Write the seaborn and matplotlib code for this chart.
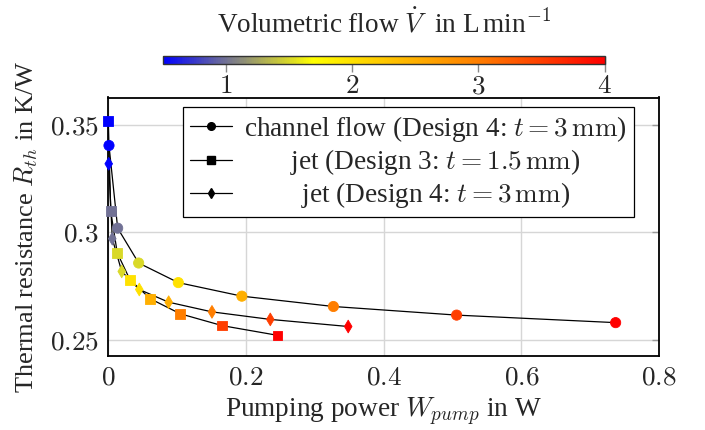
import numpy as np
import pandas as pd
import seaborn as sns
import matplotlib
matplotlib.use("Agg")
import matplotlib.pyplot as plt
from matplotlib.colors import LinearSegmentedColormap, Normalize
from matplotlib.cm import ScalarMappable
from matplotlib.lines import Line2D

# ---------------- data ----------------
flow = [0.5, 1.0, 1.5, 2.0, 2.5, 3.0, 3.5, 4.0]  # L/min

channel_power = [0.001, 0.0136, 0.0441, 0.1017, 0.194, 0.327, 0.506, 0.737]
channel_rth = [0.3404, 0.3020, 0.2858, 0.2767, 0.2704, 0.2656, 0.2616, 0.2581]

jet3_power = [0.0, 0.0035, 0.013, 0.0315, 0.061, 0.1046, 0.1656, 0.246]
jet3_rth = [0.3517, 0.3100, 0.2905, 0.2780, 0.2692, 0.2622, 0.2567, 0.2522]

jet4_power = [0.0006, 0.0058, 0.0195, 0.045, 0.0877, 0.1506, 0.2353, 0.3485]
jet4_rth = [0.3319, 0.2971, 0.2819, 0.2735, 0.2676, 0.2631, 0.2596, 0.2563]

series_labels = [
    r"channel flow (Design 4: $t=3\,\mathrm{mm}$)",
    r"jet (Design 3: $t=1.5\,\mathrm{mm}$)",
    r"jet (Design 4: $t=3\,\mathrm{mm}$)",
]
series_markers = ["o", "s", "d"]

xticks = [0, 0.2, 0.4, 0.6, 0.8]
xtick_labels = ["0", "0.2", "0.4", "0.6", "0.8"]
yticks = [0.25, 0.3, 0.35]
ytick_labels = ["0.25", "0.3", "0.35"]
cticks = [1, 2, 3, 4]
ctick_labels = ["1", "2", "3", "4"]
flow_range = (0.5, 4.0)

# ---------------- style ----------------
sns.set_theme(style="white")
plt.rcParams["font.family"] = ["Liberation Serif", "DejaVu Serif"]
plt.rcParams["mathtext.fontset"] = "cm"
plt.rcParams["axes.unicode_minus"] = False
FS = 19.6

cmap = LinearSegmentedColormap.from_list(
    "flowmap",
    [(0.0, (0.0, 0.0, 1.0)),
     (0.143, (0.45, 0.45, 0.58)),
     (0.34, (1.0, 1.0, 0.0)),
     (0.71, (1.0, 0.5, 0.0)),
     (1.0, (1.0, 0.0, 0.0))],
)
norm = Normalize(*flow_range)

frames = []
for lab, m, xs, ys in zip(series_labels, series_markers,
                          [channel_power, jet3_power, jet4_power],
                          [channel_rth, jet3_rth, jet4_rth]):
    frames.append(pd.DataFrame({"power": xs, "rth": ys, "flow": flow,
                                "series": lab, "marker": m}))
df = pd.concat(frames, ignore_index=True)

fig = plt.figure(figsize=(7.05, 4.30), dpi=100)
ax = fig.add_axes([108.3 / 705, 1 - 356 / 430, 550.7 / 705, 258.5 / 430])
cax = fig.add_axes([162.7 / 705, 1 - 64 / 430, 442 / 705, 8.3 / 430])

sizes = {"o": 54, "s": 48, "d": 42}
for lab, m in zip(series_labels, series_markers):
    sub = df[df["series"] == lab]
    sns.lineplot(data=sub, x="power", y="rth", sort=False, estimator=None,
                 color="black", linewidth=0.9, ax=ax, zorder=2, legend=False)
    pts_colors = [cmap(norm(v)) for v in sub["flow"]]
    sns.scatterplot(data=sub, x="power", y="rth", hue="flow", palette=cmap,
                    hue_norm=norm, marker=m, s=sizes[m], linewidth=0.6,
                    edgecolor=pts_colors, ax=ax, zorder=3, legend=False,
                    clip_on=False)

ax.set_xlim(0, 0.8)
ax.set_ylim(0.2426, 0.3627)
ax.set_xticks(xticks)
ax.set_xticklabels([f"${t}$" for t in xtick_labels], fontsize=FS)
ax.set_yticks(yticks)
ax.set_yticklabels([f"${t}$" for t in ytick_labels], fontsize=FS)
ax.grid(True, color="#d6d6d6", linewidth=1.0)
ax.set_axisbelow(True)
ax.tick_params(axis="both", direction="in", length=5, width=1.0,
               color="#999999", pad=7, top=False, right=True)
for sp in ax.spines.values():
    sp.set_color("black")
    sp.set_linewidth(1.3)

ax.set_xlabel(r"Pumping power $W_{pump}$ in W", fontsize=FS, labelpad=4)
ax.set_ylabel(r"Thermal resistance $R_{th}$ in K/W", fontsize=19.0, labelpad=7)

# legend
handles = [Line2D([], [], color="black", marker=m, markersize=ms, linewidth=0.9)
           for m, ms in zip(series_markers, [5.5, 5.5, 5])]
leg = ax.legend(handles, series_labels, loc="upper left",
                bbox_to_anchor=((183 - 108.3) / 550.7, (356 - 107) / 258.5),
                borderaxespad=0, fontsize=FS, frameon=True, fancybox=False,
                framealpha=1, edgecolor="black", handlelength=1.55,
                handletextpad=0.45, labelspacing=0.12, borderpad=0.25)
leg.get_frame().set_linewidth(0.9)

# colorbar
sm = ScalarMappable(norm=norm, cmap=cmap)
cb = fig.colorbar(sm, cax=cax, orientation="horizontal")
cb.set_ticks(cticks)
cb.set_ticklabels([f"${t}$" for t in ctick_labels])
cb.outline.set_linewidth(1.0)
cb.outline.set_edgecolor("#333333")
cax.tick_params(axis="x", direction="inout", length=11, width=1.0,
                color="#888888", labelsize=FS, pad=2)
cax.xaxis.set_label_position("top")
cax.set_xlabel(r"Volumetric flow $\dot{V}$  in L$\,$min$^{-1}$", fontsize=FS,
               labelpad=17)

# center legend texts like the reference
fig.canvas.draw()
r = fig.canvas.get_renderer()
widths = [t.get_window_extent(r).width for t in leg.get_texts()]
W = max(widths)
base = leg.handletextpad * leg._fontsize
for col in leg._legend_handle_box.get_children():
    for row, w in zip(col.get_children(), widths):
        row.sep = base + (W - w) / 2 * 72 / fig.dpi

fig.savefig("out.png", dpi=100)
